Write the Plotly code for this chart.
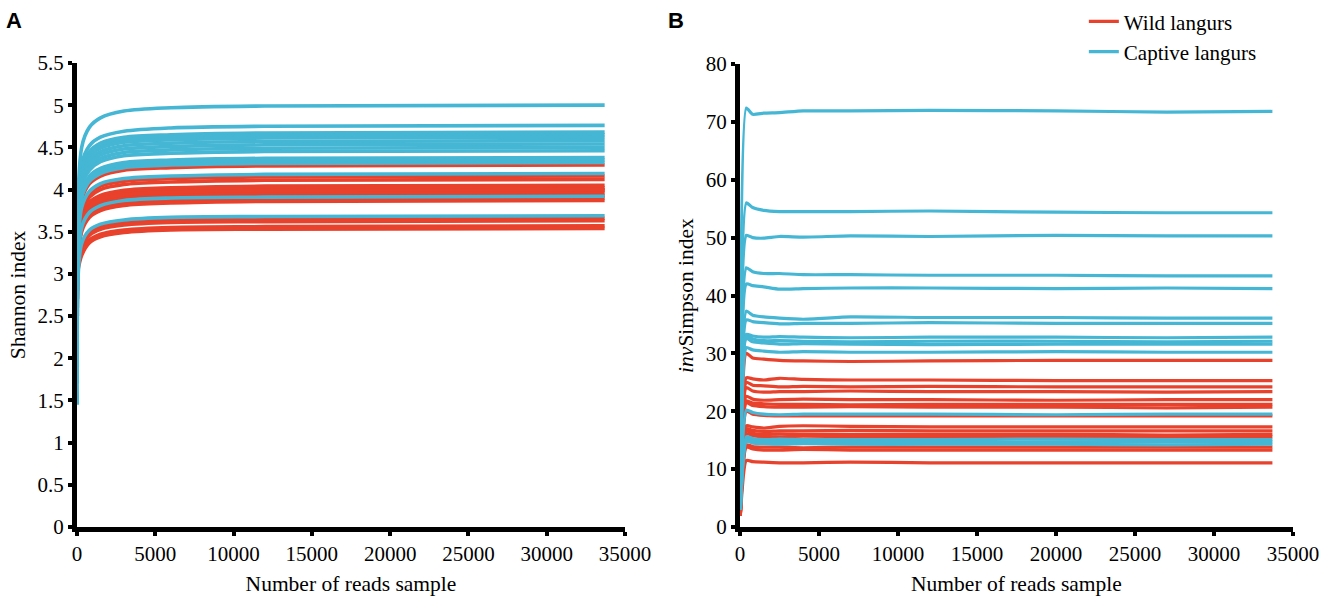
import plotly.graph_objects as go

reads_a = [20, 300, 800, 1500, 3000, 6000, 12000, 33700]
reads_b = [20, 400, 800, 1500, 2500, 4000, 7000, 12000, 20000, 27000, 33700]

# Shannon index, captive langurs
shannon_captive = [
    [1.45, 4.50, 4.74, 4.85, 4.93, 4.97, 4.99, 5.00],
    [1.70, 4.30, 4.52, 4.62, 4.69, 4.73, 4.75, 4.76],
    [1.90, 4.23, 4.45, 4.55, 4.62, 4.65, 4.67, 4.68],
    [2.05, 4.20, 4.42, 4.52, 4.59, 4.62, 4.64, 4.65],
    [2.15, 4.17, 4.39, 4.49, 4.56, 4.59, 4.61, 4.62],
    [2.25, 4.14, 4.35, 4.45, 4.52, 4.55, 4.57, 4.58],
    [2.10, 4.10, 4.31, 4.41, 4.48, 4.51, 4.53, 4.54],
    [2.35, 4.06, 4.27, 4.37, 4.44, 4.47, 4.49, 4.50],
    [2.40, 4.03, 4.23, 4.33, 4.40, 4.43, 4.45, 4.46],
    [2.50, 3.96, 4.16, 4.25, 4.32, 4.35, 4.37, 4.38],
    [2.45, 3.93, 4.13, 4.22, 4.29, 4.32, 4.34, 4.35],
    [2.60, 3.90, 4.10, 4.19, 4.26, 4.29, 4.31, 4.32],
    [2.55, 3.79, 3.98, 4.07, 4.13, 4.16, 4.18, 4.19],
    [2.70, 3.55, 3.73, 3.81, 3.87, 3.90, 3.91, 3.92],
    [2.65, 3.36, 3.52, 3.59, 3.64, 3.67, 3.68, 3.69],
]

# Shannon index, wild langurs
shannon_wild = [
    [2.50, 3.87, 4.07, 4.16, 4.23, 4.26, 4.28, 4.29],
    [2.60, 3.76, 3.95, 4.04, 4.10, 4.13, 4.15, 4.16],
    [2.70, 3.72, 3.91, 4.00, 4.06, 4.09, 4.11, 4.12],
    [2.80, 3.66, 3.85, 3.93, 3.99, 4.02, 4.04, 4.05],
    [2.70, 3.63, 3.82, 3.90, 3.96, 3.99, 4.01, 4.02],
    [2.90, 3.60, 3.79, 3.87, 3.93, 3.96, 3.98, 3.99],
    [2.80, 3.58, 3.76, 3.84, 3.90, 3.93, 3.95, 3.96],
    [2.90, 3.55, 3.73, 3.81, 3.87, 3.90, 3.92, 3.93],
    [3.00, 3.53, 3.70, 3.78, 3.84, 3.87, 3.89, 3.90],
    [2.90, 3.50, 3.67, 3.75, 3.81, 3.84, 3.86, 3.87],
    [3.00, 3.33, 3.49, 3.56, 3.61, 3.64, 3.65, 3.66],
    [3.00, 3.30, 3.46, 3.53, 3.58, 3.61, 3.62, 3.63],
    [3.10, 3.25, 3.40, 3.47, 3.52, 3.55, 3.56, 3.57],
    [3.00, 3.22, 3.37, 3.44, 3.49, 3.52, 3.53, 3.54],
    [2.80, 3.61, 3.80, 3.88, 3.94, 3.97, 3.99, 4.00],
]

# invSimpson index, captive langurs
invsimpson_captive = [
    [8, 72.4, 71.3, 71.5, 71.6, 71.9, 71.9, 72.0, 71.9, 71.7, 71.8],
    [7, 56.0, 55.2, 54.7, 54.5, 54.5, 54.5, 54.6, 54.4, 54.3, 54.3],
    [6, 50.4, 50.0, 49.9, 50.2, 50.1, 50.3, 50.2, 50.4, 50.3, 50.3],
    [6, 44.8, 44.1, 43.8, 43.8, 43.6, 43.6, 43.5, 43.5, 43.4, 43.4],
    [5, 42.0, 41.7, 41.5, 41.1, 41.2, 41.3, 41.3, 41.2, 41.3, 41.2],
    [5, 37.3, 36.6, 36.3, 36.1, 35.9, 36.3, 36.2, 36.2, 36.1, 36.1],
    [5, 35.8, 35.5, 35.3, 35.1, 35.2, 35.2, 35.3, 35.2, 35.2, 35.2],
    [4, 33.3, 33.0, 32.8, 32.9, 32.8, 32.7, 32.8, 32.8, 32.7, 32.8],
    [4, 33.0, 32.5, 32.2, 32.2, 32.1, 32.0, 32.1, 32.1, 32.0, 32.1],
    [4, 32.6, 32.0, 31.8, 31.6, 31.7, 31.6, 31.5, 31.6, 31.6, 31.6],
    [4, 31.0, 30.6, 30.4, 30.2, 30.3, 30.2, 30.2, 30.3, 30.2, 30.2],
    [3, 20.2, 19.8, 19.5, 19.4, 19.5, 19.5, 19.5, 19.4, 19.5, 19.5],
    [3, 15.6, 15.3, 15.1, 15.2, 15.1, 15.1, 15.1, 15.2, 15.1, 15.1],
    [3, 15.2, 14.9, 14.7, 14.8, 14.7, 14.7, 14.6, 14.7, 14.7, 14.7],
    [3, 14.8, 14.5, 14.4, 14.3, 14.4, 14.3, 14.3, 14.3, 14.2, 14.3],
]

# invSimpson index, wild langurs
invsimpson_wild = [
    [3.0, 30.0, 29.2, 29.0, 28.8, 28.7, 28.6, 28.7, 28.8, 28.8, 28.8],
    [2.5, 25.8, 25.6, 25.4, 25.7, 25.5, 25.4, 25.4, 25.3, 25.3, 25.3],
    [2.5, 25.0, 24.5, 24.4, 24.2, 24.3, 24.2, 24.3, 24.2, 24.2, 24.2],
    [2.5, 24.1, 23.5, 23.3, 23.4, 23.4, 23.5, 23.4, 23.4, 23.3, 23.4],
    [2.5, 22.6, 22.1, 21.9, 22.0, 22.1, 22.0, 22.0, 21.9, 22.0, 22.0],
    [2.0, 21.8, 21.4, 21.3, 21.2, 21.2, 21.1, 21.2, 21.2, 21.2, 21.2],
    [2.0, 21.5, 21.0, 20.8, 20.7, 20.7, 20.8, 20.7, 20.7, 20.6, 20.7],
    [2.0, 20.0, 19.5, 19.3, 19.2, 19.2, 19.2, 19.2, 19.2, 19.2, 19.2],
    [2.0, 17.5, 17.3, 17.1, 17.4, 17.5, 17.4, 17.3, 17.3, 17.3, 17.3],
    [2.0, 17.0, 16.7, 16.5, 16.6, 16.6, 16.7, 16.6, 16.6, 16.6, 16.6],
    [2.0, 16.6, 16.2, 16.0, 16.1, 16.0, 16.0, 16.0, 16.0, 15.9, 16.0],
    [2.0, 16.1, 15.8, 15.6, 15.6, 15.7, 15.6, 15.6, 15.6, 15.6, 15.6],
    [2.0, 14.2, 13.9, 13.8, 13.8, 13.7, 13.8, 13.8, 13.8, 13.8, 13.8],
    [2.0, 13.8, 13.5, 13.3, 13.3, 13.4, 13.3, 13.3, 13.3, 13.3, 13.3],
    [2.0, 11.5, 11.3, 11.2, 11.1, 11.1, 11.2, 11.1, 11.1, 11.1, 11.1],
]

x_ticks = [0, 5000, 10000, 15000, 20000, 25000, 30000, 35000]
x_labels = ["0", "5000", "10000", "15000", "20000", "25000", "30000", "35000"]
shannon_ticks = [0, 0.5, 1, 1.5, 2, 2.5, 3, 3.5, 4, 4.5, 5, 5.5]
shannon_labels = ["0", "0.5", "1", "1.5", "2", "2.5", "3", "3.5", "4", "4.5", "5", "5.5"]
invsimpson_ticks = [0, 10, 20, 30, 40, 50, 60, 70, 80]

RED = "#E8412C"
CYAN = "#45B7D5"
SERIF = "'Liberation Serif', 'Times New Roman', serif"

fig = go.Figure()

# wild drawn first, captive on top (as in the original)
for panel, reads, wild, captive in [("a", reads_a, shannon_wild, shannon_captive),
                                    ("b", reads_b, invsimpson_wild, invsimpson_captive)]:
    xa = "x" if panel == "a" else "x2"
    ya = "y" if panel == "a" else "y2"
    smooth = 0.9 if panel == "a" else 0.5
    lw = 3.6 if panel == "a" else 3.2
    for name, color, group in [("Wild langurs", RED, wild), ("Captive langurs", CYAN, captive)]:
        for i, ys in enumerate(group):
            fig.add_trace(go.Scatter(
                x=reads, y=ys, mode="lines", xaxis=xa, yaxis=ya,
                line=dict(color=color, width=lw, shape="spline", smoothing=smooth),
                name=name, legendgroup=name,
                showlegend=(panel == "b" and i == 0),
                hoverinfo="skip",
            ))

axis_common = dict(
    showline=True, linewidth=5, linecolor="black",
    ticks="outside", ticklen=4, tickwidth=4, tickcolor="black",
    showgrid=False, zeroline=False, automargin=False,
    tickfont=dict(family=SERIF, size=21, color="black"),
    title_font=dict(family=SERIF, size=21.5, color="black"),
)

fig.update_layout(
    width=1325, height=601,
    margin=dict(l=0, r=0, t=0, b=0),
    plot_bgcolor="white", paper_bgcolor="white",
    font=dict(family=SERIF, color="black"),
    xaxis=dict(axis_common, domain=[0.0581, 0.4717], range=[0, 35000],
               tickvals=x_ticks, ticktext=x_labels, anchor="y",
               title=dict(text="Number of reads sample", standoff=12)),
    yaxis=dict(axis_common, domain=[0.1231, 0.8952], range=[0, 5.5],
               tickvals=shannon_ticks, ticktext=shannon_labels, anchor="x",
               title=dict(text="Shannon index", standoff=8)),
    xaxis2=dict(axis_common, domain=[0.5585, 0.9758], range=[0, 35000],
                tickvals=x_ticks, ticktext=x_labels, anchor="y2",
                title=dict(text="Number of reads sample", standoff=12)),
    yaxis2=dict(axis_common, domain=[0.1231, 0.8935], range=[0, 80],
                tickvals=invsimpson_ticks, anchor="x2",
                title=dict(text="<i>inv</i>Simpson index", standoff=8)),
    legend=dict(x=0.818, y=0.998, xanchor="left", yanchor="top",
                font=dict(family=SERIF, size=21, color="black"),
                itemwidth=30, bgcolor="rgba(0,0,0,0)", tracegroupgap=0),
    annotations=[
        dict(text="<b>A</b>", x=0.003, y=0.99, xref="paper", yref="paper",
             xanchor="left", yanchor="top", showarrow=False,
             font=dict(family="Liberation Sans", size=22, color="black")),
        dict(text="<b>B</b>", x=0.503, y=0.99, xref="paper", yref="paper",
             xanchor="left", yanchor="top", showarrow=False,
             font=dict(family="Liberation Sans", size=22, color="black")),
    ],
)

# drop the browser's default page margin so the figure sits at the window corner
fig.write_html("out.html", config={"displayModeBar": False},
               post_script="document.body.style.margin='0';")
